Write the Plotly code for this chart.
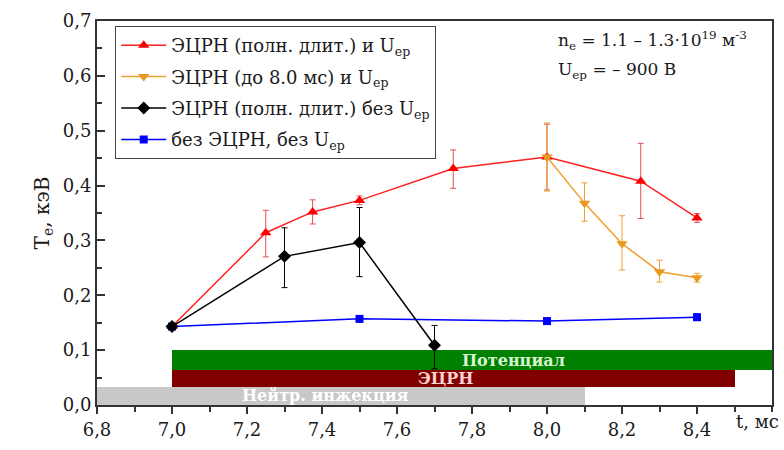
import plotly.graph_objects as go

# Series data
red_x = [7.0, 7.25, 7.375, 7.5, 7.75, 8.0, 8.25, 8.4]
red_y = [0.143, 0.314, 0.352, 0.373, 0.431, 0.452, 0.408, 0.341]
red_ep = [0.004, 0.041, 0.022, 0.008, 0.034, 0.060, 0.069, 0.008]
red_em = [0.004, 0.044, 0.022, 0.008, 0.036, 0.060, 0.068, 0.008]

orange_x = [8.0, 8.1, 8.2, 8.3, 8.4]
orange_y = [0.452, 0.368, 0.294, 0.243, 0.232]
orange_ep = [0.062, 0.037, 0.051, 0.021, 0.008]
orange_em = [0.062, 0.033, 0.048, 0.019, 0.008]

black_x = [7.0, 7.3, 7.5, 7.7]
black_y = [0.143, 0.271, 0.296, 0.109]
black_ep = [0.005, 0.052, 0.064, 0.036]
black_em = [0.005, 0.057, 0.062, 0.043]

blue_x = [7.0, 7.5, 8.0, 8.4]
blue_y = [0.143, 0.157, 0.153, 0.160]
blue_e = [0.003, 0.004, 0.004, 0.006]

# Timing bars
bar_labels = ["Потенциал", "ЭЦРН", "Нейтр. инжекция"]
bar_start = [7.0, 7.0, 6.8]
bar_end = [8.6, 8.5, 8.1]
bar_lo = [0.064, 0.033, 0.0]
bar_hi = [0.1, 0.064, 0.033]
bar_colors = ["#008000", "#800000", "#c8c8c8"]
bar_text_x = [7.91, 7.73, 7.41]
bar_text_colors = ["#d8f5d0", "#ffd0d0", "#ffffff"]

FONT = "DejaVu Serif"

fig = go.Figure()

for i, lab in enumerate(bar_labels):
    fig.add_trace(go.Bar(
        orientation="h",
        y=[(bar_lo[i] + bar_hi[i]) / 2],
        x=[bar_end[i] - bar_start[i]],
        base=[bar_start[i]],
        width=[bar_hi[i] - bar_lo[i]],
        marker=dict(color=bar_colors[i], line=dict(width=0)),
        showlegend=False, hoverinfo="skip",
    ))

fig.add_trace(go.Scatter(
    x=blue_x, y=blue_y, mode="lines+markers",
    name="без ЭЦРН, без U<sub>ер</sub>", legendrank=4, legendgroup="g4",
    line=dict(color="#0000ff", width=1.5),
    marker=dict(symbol="square", size=8, color="#0000ff"),
    error_y=dict(type="data", array=blue_e, color="#0000ff", thickness=1, width=3),
))
fig.add_trace(go.Scatter(
    x=red_x, y=red_y, mode="lines+markers",
    name="ЭЦРН (полн. длит.) и U<sub>ер</sub>", legendrank=1, legendgroup="g1",
    line=dict(color="#ff2020", width=1.5),
    marker=dict(symbol="triangle-up", size=10, color="#ff0000"),
    error_y=dict(type="data", array=red_ep, arrayminus=red_em, color="#e05050", thickness=1, width=3),
))
fig.add_trace(go.Scatter(
    x=orange_x, y=orange_y, mode="lines+markers",
    name="ЭЦРН (до 8.0 мс) и U<sub>ер</sub>", legendrank=2, legendgroup="g2",
    line=dict(color="#f0a030", width=1.5),
    marker=dict(symbol="triangle-down", size=10, color="#e89a20"),
    error_y=dict(type="data", array=orange_ep, arrayminus=orange_em, color="#f0a030", thickness=1, width=3),
))
fig.add_trace(go.Scatter(
    x=black_x, y=black_y, mode="lines+markers",
    name="ЭЦРН (полн. длит.) без U<sub>ер</sub>", legendrank=3, legendgroup="g3",
    line=dict(color="#000000", width=1.5),
    marker=dict(symbol="diamond", size=10, color="#000000"),
    error_y=dict(type="data", array=black_ep, arrayminus=black_em, color="#000000", thickness=1, width=3),
))

annotations = []
for i, lab in enumerate(bar_labels):
    annotations.append(dict(
        x=bar_text_x[i], y=(bar_lo[i] + bar_hi[i]) / 2, xref="x", yref="y",
        text="<b>" + lab + "</b>", showarrow=False,
        font=dict(family=FONT, size=16, color=bar_text_colors[i]),
    ))
annotations += [
    dict(x=0.68, y=0.95, xref="paper", yref="paper", xanchor="left", yanchor="middle",
         text="n<sub>e</sub> = 1.1 – 1.3·10<sup>19</sup> м<sup>-3</sup>", showarrow=False,
         font=dict(family=FONT, size=17, color="#1a1a1a")),
    dict(x=0.68, y=0.87, xref="paper", yref="paper", xanchor="left", yanchor="middle",
         text="U<sub>ер</sub> = – 900 В", showarrow=False,
         font=dict(family=FONT, size=17, color="#1a1a1a")),
    dict(x=1.0, y=0, xref="paper", yref="paper", xanchor="right", yanchor="top",
         xshift=9, yshift=-4,
         text="t, мс", showarrow=False,
         font=dict(family=FONT, size=18, color="#1a1a1a")),
]

fig.update_layout(
    width=784, height=450,
    margin=dict(l=97, r=10, t=17, b=43),
    paper_bgcolor="white", plot_bgcolor="white",
    font=dict(family=FONT, size=16, color="#1a1a1a"),
    barmode="overlay", bargap=0,
    showlegend=True,
    legend=dict(x=0.027, y=0.987, xanchor="left", yanchor="top",
                bgcolor="white", bordercolor="#444", borderwidth=1,
                font=dict(family=FONT, size=18, color="#1a1a1a"),
                traceorder="grouped", tracegroupgap=5, itemwidth=45),
    annotations=annotations,
)
fig.update_xaxes(
    range=[6.8, 8.6], tickvals=[6.8, 7.0, 7.2, 7.4, 7.6, 7.8, 8.0, 8.2, 8.4],
    ticktext=["6,8", "7,0", "7,2", "7,4", "7,6", "7,8", "8,0", "8,2", "8,4"],
    ticks="outside", ticklen=7, tickwidth=1.5, tickcolor="#333",
    minor=dict(dtick=0.1, tick0=6.8, ticks="outside", ticklen=5, tickcolor="#333", tickwidth=1.5),
    showline=True, linecolor="#333", linewidth=2, mirror=True,
    showgrid=False, zeroline=False,
    tickfont=dict(family=FONT, size=18, color="#1a1a1a"),
)
fig.update_yaxes(
    range=[0, 0.7], tickvals=[0, 0.1, 0.2, 0.3, 0.4, 0.5, 0.6, 0.7],
    ticktext=["0,0", "0,1", "0,2", "0,3", "0,4", "0,5", "0,6", "0,7"],
    ticks="inside", ticklen=8, tickwidth=1.5, tickcolor="#333",
    minor=dict(dtick=0.05, tick0=0, ticks="inside", ticklen=5, tickcolor="#333", tickwidth=1.5),
    showline=True, linecolor="#333", linewidth=2, mirror=True,
    showgrid=False, zeroline=False,
    tickfont=dict(family=FONT, size=18, color="#1a1a1a"),
    title=dict(text="T<sub>e</sub>, кэВ", font=dict(family=FONT, size=20, color="#1a1a1a"), standoff=8),
)

fig.write_html("out.html")
